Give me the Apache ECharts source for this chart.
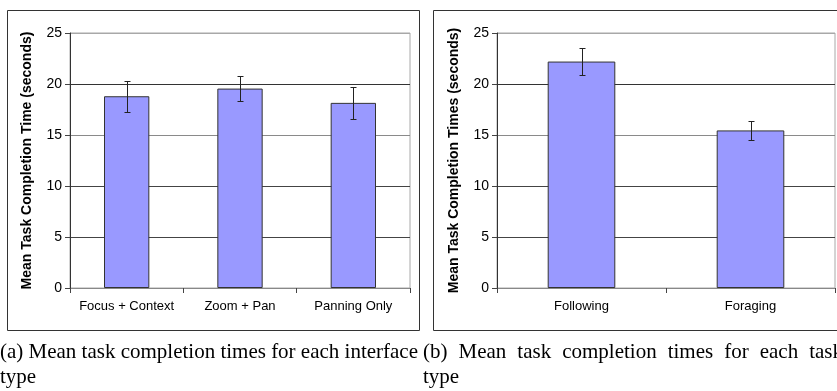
<!DOCTYPE html>
<html>
<head>
<meta charset="utf-8">
<script src="https://cdn.jsdelivr.net/npm/echarts@6/dist/echarts.min.js"></script>
<style>
  html, body { margin: 0; padding: 0; background: #fff; }
  #chart { width: 837px; height: 391px; }
</style>
</head>
<body>
<div id="chart"></div>
<script>
// Panel (a): completion time per interface type
const interfaceTypes = ['Focus + Context', 'Zoom + Pan', 'Panning Only'];
const interfaceMeans = [18.8, 19.55, 18.15];
const interfaceErrors = [1.5, 1.25, 1.6];

// Panel (b): completion time per task type
const taskTypes = ['Following', 'Foraging'];
const taskMeans = [22.2, 15.45];
const taskErrors = [1.3, 0.95];

const yTicks = [0, 5, 10, 15, 20, 25];

const captionA = '(a) Mean task completion times for each interface';
const captionB = '(b) Mean task completion times for each task';
const captionTail = 'type';

const SANS = '"Liberation Sans", Arial, sans-serif';
const SERIF = '"Liberation Serif", "Times New Roman", serif';
const CAPTION_SIZE = 21;

const chart = echarts.init(document.getElementById('chart'), null, { renderer: 'canvas' });

// Lay out a caption line as justified words between x0 and x0 + width
const measureCtx = document.createElement('canvas').getContext('2d');
function justifiedWords(text, x0, width, y) {
  measureCtx.font = CAPTION_SIZE + 'px ' + SERIF;
  const words = text.split(' ');
  const widths = words.map(w => measureCtx.measureText(w).width);
  const total = widths.reduce((a, b) => a + b, 0);
  const gap = Math.max(3, (width - total) / (words.length - 1));
  let x = x0;
  return words.map((w, i) => {
    const el = {
      type: 'text',
      x: x,
      y: y,
      style: { text: w, font: CAPTION_SIZE + 'px ' + SERIF, fill: '#000', textVerticalAlign: 'middle' },
      silent: true
    };
    x += widths[i] + gap;
    return el;
  });
}

function errorBarSeries(gridIndex, means, errors) {
  return {
    type: 'custom',
    xAxisIndex: gridIndex,
    yAxisIndex: gridIndex,
    data: means.map((m, i) => [i, m - errors[i], m + errors[i]]),
    z: 5,
    renderItem: function (params, api) {
      const lo = api.coord([api.value(0), api.value(1)]);
      const hi = api.coord([api.value(0), api.value(2)]);
      const x = Math.round(lo[0]) + 0.5;
      const y1 = Math.round(hi[1]) + 0.5;
      const y2 = Math.round(lo[1]) + 0.5;
      const cap = 3;
      const style = { stroke: '#222', lineWidth: 1 };
      return {
        type: 'group',
        children: [
          { type: 'line', shape: { x1: x, y1: y1, x2: x, y2: y2 }, style: style },
          { type: 'line', shape: { x1: x - cap, y1: y1, x2: x + cap, y2: y1 }, style: style },
          { type: 'line', shape: { x1: x - cap, y1: y2, x2: x + cap, y2: y2 }, style: style }
        ]
      };
    }
  };
}

function xAxisFor(gridIndex, cats) {
  return {
    type: 'category',
    gridIndex: gridIndex,
    data: cats,
    axisLine: { lineStyle: { color: '#888', width: 1 } },
    axisTick: { show: true, length: 5, lineStyle: { color: '#444' } },
    axisLabel: { color: '#000', fontSize: 13, fontFamily: SANS, margin: 12, interval: 0 },
    splitLine: { show: false }
  };
}

function yAxisFor(gridIndex, name) {
  return {
    type: 'value',
    gridIndex: gridIndex,
    min: yTicks[0],
    max: yTicks[yTicks.length - 1],
    interval: yTicks[1] - yTicks[0],
    name: name,
    nameLocation: 'middle',
    nameGap: 36,
    nameTextStyle: { color: '#000', fontSize: 14, fontWeight: 'bold', fontFamily: SANS },
    axisLine: { show: true, lineStyle: { color: '#333', width: 1 } },
    axisTick: { show: true, length: 5, lineStyle: { color: '#444' } },
    axisLabel: { color: '#000', fontSize: 14, fontFamily: SANS, margin: 8 },
    splitLine: {
      show: true,
      lineStyle: { color: ['#888', '#444', '#444', '#8a8a8a', '#333', '#a8a8a8'], width: 1 }
    }
  };
}

const option = {
  animation: false,
  backgroundColor: '#fff',
  grid: [
    { left: 70, right: 427, top: 33, bottom: 103, show: true, borderColor: '#a8a8a8', borderWidth: 1 },
    { left: 497, right: 2, top: 33, bottom: 103, show: true, borderColor: '#a8a8a8', borderWidth: 1 }
  ],
  xAxis: [xAxisFor(0, interfaceTypes), xAxisFor(1, taskTypes)],
  yAxis: [
    yAxisFor(0, 'Mean Task Completion Time (seconds)'),
    yAxisFor(1, 'Mean Task Completion Times (seconds)')
  ],
  series: [
    {
      type: 'bar',
      xAxisIndex: 0,
      yAxisIndex: 0,
      data: interfaceMeans,
      barWidth: '40%',
      itemStyle: { color: '#9999ff', borderColor: '#333', borderWidth: 1 }
    },
    errorBarSeries(0, interfaceMeans, interfaceErrors),
    {
      type: 'bar',
      xAxisIndex: 1,
      yAxisIndex: 1,
      data: taskMeans,
      barWidth: '40%',
      itemStyle: { color: '#9999ff', borderColor: '#333', borderWidth: 1 }
    },
    errorBarSeries(1, taskMeans, taskErrors)
  ],
  graphic: [
    // frames around each panel
    { type: 'rect', shape: { x: 7.5, y: 10.5, width: 412, height: 320 }, style: { fill: 'none', stroke: '#333', lineWidth: 1 }, silent: true },
    { type: 'rect', shape: { x: 433.5, y: 10.5, width: 420, height: 320 }, style: { fill: 'none', stroke: '#333', lineWidth: 1 }, silent: true },
    ...justifiedWords(captionA, 0, 418, 352),
    ...justifiedWords(captionB, 423, 420, 352),
    { type: 'text', x: 0, y: 377, style: { text: captionTail, font: CAPTION_SIZE + 'px ' + SERIF, fill: '#000', textVerticalAlign: 'middle' }, silent: true },
    { type: 'text', x: 423, y: 377, style: { text: captionTail, font: CAPTION_SIZE + 'px ' + SERIF, fill: '#000', textVerticalAlign: 'middle' }, silent: true }
  ]
};

chart.setOption(option);
</script>
</body>
</html>
